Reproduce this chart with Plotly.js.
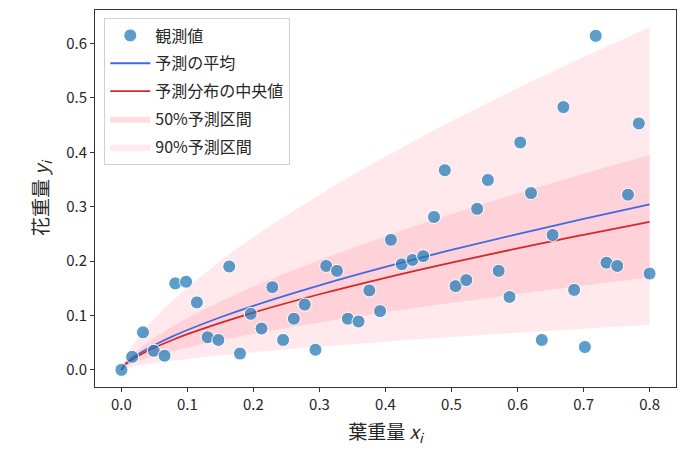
<!DOCTYPE html>
<html>
<head>
<meta charset="utf-8">
<script src="https://cdn.plot.ly/plotly-3.0.1.min.js"></script>
<style>
  html, body { margin: 0; padding: 0; background: #fff; }
  #chart { width: 690px; height: 455px; }
</style>
</head>
<body>
<div id="chart"></div>
<script>
// observed data (leaf weight x_i, flower weight y_i)
const leafWeight = [
  0, 0.0163, 0.0327, 0.049, 0.0653, 0.0816, 0.098, 0.1143, 0.1306, 0.1469,
  0.1633, 0.1796, 0.1959, 0.2122, 0.2286, 0.2449, 0.2612, 0.2776, 0.2939, 0.3102,
  0.3265, 0.3429, 0.3592, 0.3755, 0.3918, 0.4082, 0.4245, 0.4408, 0.4571, 0.4735,
  0.4898, 0.5061, 0.5224, 0.5388, 0.5551, 0.5714, 0.5878, 0.6041, 0.6204, 0.6367,
  0.6531, 0.6694, 0.6857, 0.702, 0.7184, 0.7347, 0.751, 0.7673, 0.7837, 0.8,
];
const flowerWeight = [
  0.0, 0.024, 0.069, 0.035, 0.026, 0.159, 0.162, 0.124, 0.060, 0.055,
  0.190, 0.030, 0.103, 0.076, 0.152, 0.055, 0.094, 0.120, 0.037, 0.191,
  0.182, 0.094, 0.089, 0.146, 0.108, 0.239, 0.194, 0.202, 0.209, 0.281,
  0.367, 0.154, 0.165, 0.296, 0.349, 0.182, 0.134, 0.418, 0.325, 0.055,
  0.248, 0.483, 0.147, 0.042, 0.614, 0.197, 0.191, 0.322, 0.453, 0.177,
];

// prediction curves
const curveX     = [0, 0.005, 0.01, 0.02, 0.04, 0.06, 0.08, 0.1, 0.15, 0.2, 0.3, 0.4, 0.5, 0.6, 0.7, 0.8];
const predMean   = [0, 0.0095, 0.0152, 0.0244, 0.0392, 0.0517, 0.0629, 0.0733, 0.0967, 0.1178, 0.1553, 0.1892, 0.2204, 0.2497, 0.2775, 0.304];
const predMedian = [0, 0.0085, 0.0136, 0.0218, 0.0350, 0.0462, 0.0563, 0.0656, 0.0865, 0.1054, 0.1390, 0.1693, 0.1972, 0.2234, 0.2483, 0.272];
const pi50Lo     = [0, 0.0053, 0.0085, 0.0136, 0.0219, 0.0289, 0.0352, 0.0410, 0.0541, 0.0659, 0.0869, 0.1058, 0.1233, 0.1396, 0.1552, 0.170];
const pi50Hi     = [0, 0.0123, 0.0197, 0.0317, 0.0509, 0.0672, 0.0818, 0.0952, 0.1256, 0.1531, 0.2018, 0.2458, 0.2864, 0.3245, 0.3605, 0.395];
const pi90Lo     = [0, 0.0026, 0.0041, 0.0067, 0.0107, 0.0141, 0.0172, 0.0200, 0.0264, 0.0322, 0.0424, 0.0517, 0.0602, 0.0682, 0.0758, 0.083];
const pi90Hi     = [0, 0.0196, 0.0314, 0.0505, 0.0811, 0.1071, 0.1304, 0.1519, 0.2003, 0.2441, 0.3219, 0.3920, 0.4568, 0.5175, 0.5750, 0.630];

const FONT = '"Noto Sans CJK JP", "DejaVu Sans", sans-serif';
const TEXT = '#262626';

const band = (lo, hi, name, fillcolor, rank) => [
  {
    x: curveX, y: lo, mode: 'lines', line: { width: 0, shape: 'spline' },
    showlegend: false, legendgroup: name, hoverinfo: 'skip',
  },
  {
    x: curveX, y: hi, mode: 'lines', line: { width: 0, shape: 'spline' },
    fill: 'tonexty', fillcolor, name, legendgroup: name, legendrank: rank,
  },
];

const traces = [
  ...band(pi90Lo, pi90Hi, '90%予測区間', 'rgba(255,192,203,0.35)', 5),
  ...band(pi50Lo, pi50Hi, '50%予測区間', 'rgba(255,192,203,0.56)', 4),
  {
    x: curveX, y: predMean, mode: 'lines', name: '予測の平均',
    line: { color: '#4169e1', width: 1.8, shape: 'spline' },
    legendgroup: 'mean', legendrank: 2,
  },
  {
    x: curveX, y: predMedian, mode: 'lines', name: '予測分布の中央値',
    line: { color: '#d62728', width: 1.8, shape: 'spline' },
    legendgroup: 'median', legendrank: 3,
  },
  {
    x: leafWeight, y: flowerWeight, mode: 'markers', name: '観測値',
    marker: { color: 'rgba(31,119,180,0.72)', size: 13, line: { color: '#fff', width: 1 } },
    legendgroup: 'obs', legendrank: 1,
  },
];

const axisBase = {
  showgrid: false, zeroline: false,
  showline: true, mirror: true, linecolor: '#333', linewidth: 1,
  ticks: 'outside', ticklen: 4, tickcolor: '#333',
  tickfont: { family: FONT, size: 15, color: TEXT },
};

const layout = {
  width: 690, height: 455,
  paper_bgcolor: '#fff', plot_bgcolor: '#fff',
  font: { family: FONT, color: TEXT },
  margin: { l: 95, r: 14, t: 10, b: 68 },
  showlegend: true,
  legend: {
    x: 0.016, y: 0.98, xanchor: 'left', yanchor: 'top',
    bgcolor: 'rgba(255,255,255,0.8)', bordercolor: '#d0d0d0', borderwidth: 1,
    font: { family: FONT, size: 16, color: TEXT },
    traceorder: 'grouped', tracegroupgap: 4, itemwidth: 40,
  },
  xaxis: {
    ...axisBase,
    range: [-0.04, 0.84],
    tickvals: [0, 0.1, 0.2, 0.3, 0.4, 0.5, 0.6, 0.7, 0.8],
    tickformat: '.1f',
    title: { text: '葉重量 <i>x<sub>i</sub></i>', font: { family: FONT, size: 19, color: TEXT }, standoff: 12 },
  },
  yaxis: {
    ...axisBase,
    range: [-0.0315, 0.6615],
    tickvals: [0, 0.1, 0.2, 0.3, 0.4, 0.5, 0.6],
    tickformat: '.1f',
    title: { text: '花重量 <i>y<sub>i</sub></i>', font: { family: FONT, size: 19, color: TEXT }, standoff: 12 },
  },
};

Plotly.newPlot('chart', traces, layout, { displayModeBar: false, staticPlot: true });
</script>
</body>
</html>
